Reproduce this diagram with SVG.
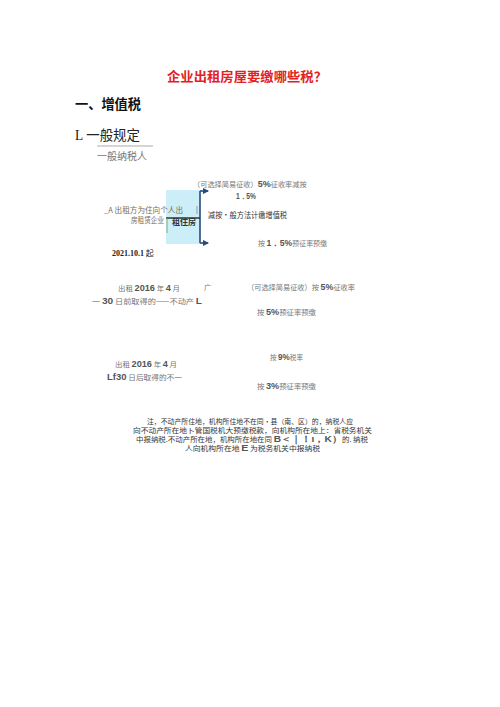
<svg xmlns="http://www.w3.org/2000/svg" width="500" height="707" viewBox="0 0 500 707">
<style>
.cjk{font-family:"Noto Sans CJK SC","Noto Sans",sans-serif;}
.title{font-size:13px;font-weight:bold;fill:#e3221f;}
.h1{font-size:13.5px;font-weight:bold;fill:#111;}
.h2{font-size:14px;fill:#222;}
.sm{font-size:7.3px;fill:#777;}
.num{font-family:"Liberation Sans",Arial,sans-serif;font-weight:bold;font-size:9px;fill:#555;}
.note{font-size:6.6px;fill:#333;}
.brown{font-size:7.6px;fill:#7d6c4c;}
</style>
<defs>
<marker id="ah" viewBox="0 0 6 6" refX="5" refY="3" markerWidth="4" markerHeight="4" orient="auto">
<path d="M0,0 L6,3 L0,6 Z" fill="#2a4a7a"/>
</marker>
</defs>
<rect width="500" height="707" fill="#ffffff"/>

<g id="title"><text class="cjk title" x="167" y="81" textLength="160" lengthAdjust="spacingAndGlyphs">企业出租房屋要缴哪些税？</text></g>
<g id="heading1"><text class="cjk h1" x="75" y="109" textLength="66" lengthAdjust="spacingAndGlyphs">一、增值税</text></g>
<g id="heading2"><text class="cjk h2" x="75" y="140" textLength="65" lengthAdjust="spacingAndGlyphs"><tspan font-family="Liberation Serif,serif">L</tspan> 一般规定</text>
<line x1="97" y1="146" x2="153" y2="146" stroke="#888" stroke-width="0.7"/>
<text class="cjk" x="97" y="160" font-size="10" fill="#777" textLength="50" lengthAdjust="spacingAndGlyphs">一般纳税人</text></g>

<g id="rent-box">
<rect x="166" y="190" width="34" height="54" fill="#cbeef8"/>
<text class="cjk" x="172" y="225" font-size="8" font-weight="bold" fill="#333" textLength="24" lengthAdjust="spacingAndGlyphs">租住房</text>
</g>

<g id="connectors">
<path d="M200,191 V243" fill="none" stroke="#2a4a7a" stroke-width="1.6"/>
<path d="M200,191 H208" fill="none" stroke="#2a4a7a" stroke-width="1.6" marker-end="url(#ah)"/>
<path d="M200,243 H208" fill="none" stroke="#2a4a7a" stroke-width="1.6" marker-end="url(#ah)"/>
<path d="M166,218 H200" fill="none" stroke="#333" stroke-width="1.5"/>
<path d="M197,206 V214" fill="none" stroke="#888" stroke-width="0.8"/>
<path d="M167,218 V233" fill="none" stroke="#6a9a5a" stroke-width="0.8"/>
</g>

<g id="lessor">
<text class="cjk brown" x="104" y="213" textLength="79" lengthAdjust="spacingAndGlyphs">_A 出租方为住向个人出</text>
<text class="cjk brown" x="131" y="223" textLength="33" lengthAdjust="spacingAndGlyphs">房租赁企业</text>
<text x="112" y="256" font-family="Liberation Serif,serif" font-weight="bold" font-size="8" fill="#222">2021.10.1<tspan class="cjk" font-weight="normal"> 起</tspan></text>
</g>

<g id="opt-simple-1">
<text class="cjk" x="193" y="187" font-size="7.2" fill="#777">（可选择简易征收）<tspan class="num" font-size="8">5%</tspan>征收率减按</text>
<text class="num" x="236" y="199" font-size="8.5" textLength="20" lengthAdjust="spacingAndGlyphs">1．5%</text>
</g>
<g id="opt-general"><text class="cjk" x="208" y="218" font-size="7.6" fill="#333" textLength="79" lengthAdjust="spacingAndGlyphs">减按•般方法计缴增值税</text></g>
<g id="prepay-1"><text class="cjk sm" x="258" y="246" textLength="69" lengthAdjust="spacingAndGlyphs">按 <tspan class="num">1．5%</tspan>预征率预缴</text></g>

<g id="before-2016">
<text class="cjk sm" x="118" y="291" textLength="62" lengthAdjust="spacingAndGlyphs">出租 <tspan class="num">2016</tspan> 年 <tspan class="num">4</tspan> 月</text>
<text class="cjk sm" x="204" y="290">广</text>
<text class="cjk sm" x="92" y="304" textLength="110" lengthAdjust="spacingAndGlyphs">一 <tspan class="num">30</tspan> 日前取得的——不动产  <tspan class="num" fill="#3a4a7a">L</tspan></text>
</g>
<g id="opt-simple-2"><text class="cjk sm" x="247" y="290" textLength="108" lengthAdjust="spacingAndGlyphs">（可选择简易征收）按 <tspan class="num">5%</tspan>征收率</text></g>
<g id="prepay-2"><text class="cjk sm" x="257" y="315" textLength="59" lengthAdjust="spacingAndGlyphs">按 <tspan class="num">5%</tspan>预征率预缴</text></g>

<g id="after-2016">
<text class="cjk sm" x="115" y="367" textLength="62" lengthAdjust="spacingAndGlyphs">出租 <tspan class="num">2016</tspan> 年 <tspan class="num">4</tspan> 月</text>
<text class="cjk sm" x="107" y="380" textLength="75" lengthAdjust="spacingAndGlyphs"><tspan class="num" font-size="9.5" fill="#3a4a8a">Lf30</tspan> 日后取得的不一</text>
</g>
<g id="rate-9"><text class="cjk sm" x="270" y="360" textLength="33" lengthAdjust="spacingAndGlyphs">按 <tspan class="num">9%</tspan>税率</text></g>
<g id="prepay-3"><text class="cjk sm" x="257" y="389" textLength="59" lengthAdjust="spacingAndGlyphs">按 <tspan class="num">3%</tspan>预征率预缴</text></g>

<g id="note">
<text class="cjk note" x="147" y="424" textLength="206" lengthAdjust="spacingAndGlyphs">注，不动产所住地，机构所住地不在同•县（南、区）的，纳税人应</text>
<text class="cjk note" x="133" y="433" textLength="239" lengthAdjust="spacingAndGlyphs">向不动产所在地卜管国税机大预缴税款，向机构所在地上：省税务机关</text>
<text class="cjk note" x="136" y="442" textLength="232" lengthAdjust="spacingAndGlyphs">中报纳税.不动产所在地，机构所在地在同 <tspan class="num" font-size="8.5" fill="#333" font-weight="normal">B＜｜！ι，K）</tspan>的. 纳税</text>
<text class="cjk note" x="185" y="451" textLength="135" lengthAdjust="spacingAndGlyphs">人向机构所在地 <tspan class="num" font-size="8.5" fill="#333" font-weight="normal">E</tspan> 为税务机关中报纳税</text>
</g>
</svg>
